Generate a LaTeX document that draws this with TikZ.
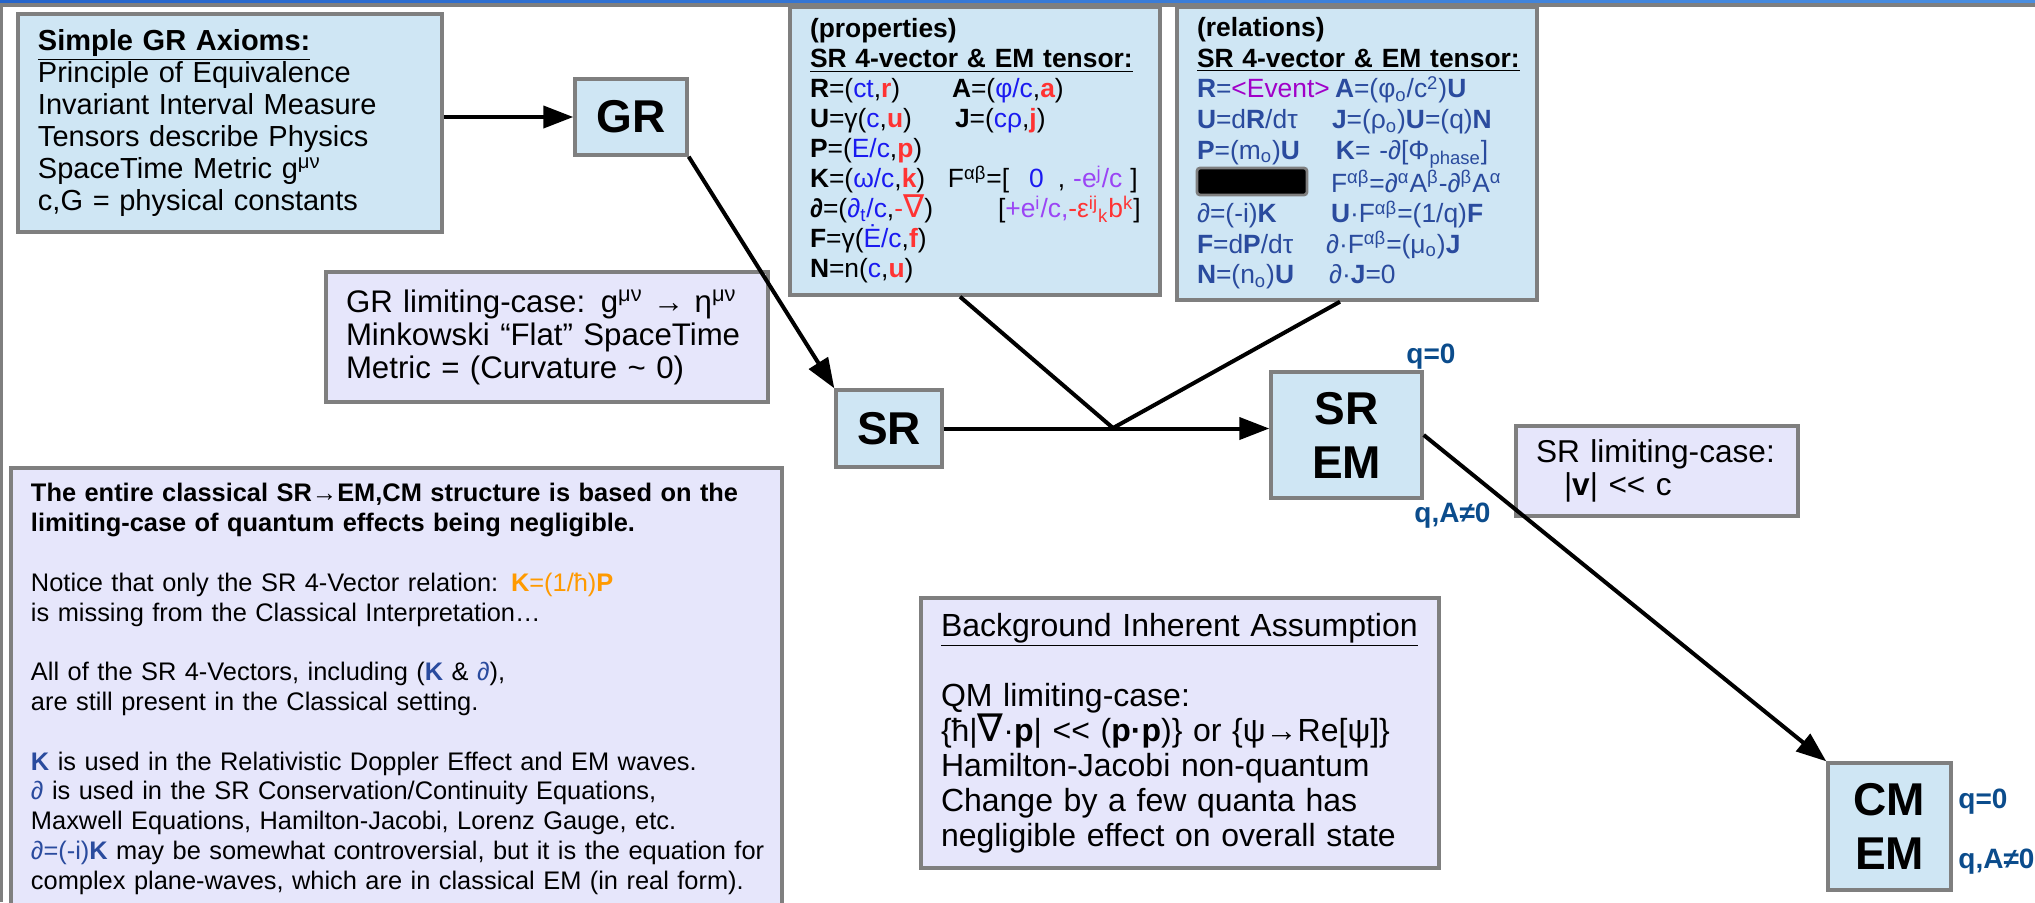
\documentclass[tikz,border=0pt]{standalone}
\usepackage{fontspec}
\setmainfont{Liberation Sans}
\newfontfamily\nablafont{DejaVu Sans}
\usetikzlibrary{positioning, arrows.meta}

\definecolor{skyfill}{HTML}{CFE6F4}
\definecolor{lavfill}{HTML}{E6E6FB}
\definecolor{edgegray}{HTML}{7F7F7F}
\definecolor{tblue}{HTML}{1A1AF0}
\definecolor{sred}{HTML}{FF3333}
\definecolor{epurple}{HTML}{9B45F5}
\definecolor{relblue}{HTML}{2A4B9E}
\definecolor{evpurple}{HTML}{A000C8}
\definecolor{qblue}{HTML}{0B4C8C}
\definecolor{korange}{HTML}{FF9A00}
\definecolor{barleft}{HTML}{2565CC}
\definecolor{barright}{HTML}{4A8EE0}

\newcommand{\tcomp}[1]{\textcolor{tblue}{#1}}
\newcommand{\scomp}[1]{\textcolor{sred}{\bfseries #1}}
\newcommand{\nab}{\scalebox{1.2}{\nablafont ∇}}
\newcommand{\col}[2]{\makebox[#1][l]{#2}}
\newcommand{\muchless}{<\kern0pt<}

\begin{document}
\begin{tikzpicture}[x=0.5pt, y=-0.5pt,
    panel/.style={rectangle, draw=edgegray, line width=1.7pt, align=left, inner xsep=10pt, inner ysep=0pt},
    skybox/.style={panel, fill=skyfill},
    lavbox/.style={panel, fill=lavfill},
    big/.style={rectangle, draw=edgegray, line width=1.7pt, fill=skyfill, align=center, inner sep=0pt,
        font=\bfseries\fontsize{23pt}{27pt}\selectfont},
    qlabel/.style={anchor=base west, inner sep=0pt, text=qblue, font=\bfseries\fontsize{14pt}{16pt}\selectfont},
    arr/.style={-{Triangle[length=15pt,width=11pt]}, line width=2pt},
    link/.style={line width=2pt}]
    \useasboundingbox (0,0) rectangle (2035,902);

    % frame strips
    \shade[left color=barleft, right color=barright] (0,0) rectangle (2035,3);
    \fill[edgegray] (0,3) rectangle (2035,7);
    \fill[edgegray] (0,7) rectangle (2.5,902);

    % top row
    \node[skybox, minimum width=212pt, minimum height=109pt, text width=192pt,
        font=\fontsize{14.5pt}{16pt}\selectfont] (axioms) at (230,123) {%
        \textbf{\underline{Simple GR Axioms:}}\\
        Principle of Equivalence\\
        Invariant Interval Measure\\
        Tensors describe Physics\\
        SpaceTime Metric g\textsuperscript{μν}\\
        c,G = physical constants};
    \node[big, minimum width=56pt, minimum height=38pt] (gr) at (631,117) {GR};

    \node[skybox, minimum width=185pt, minimum height=144pt, text width=165pt,
        font=\fontsize{13.2pt}{15pt}\selectfont] (props) at (975,151) {%
        \textbf{(properties)}\\
        \textbf{\underline{SR 4-vector \& EM tensor:}}\\
        \col{71pt}{\textbf{R}=(\tcomp{ct},\scomp{r})}\textbf{A}=(\tcomp{φ/c},\scomp{a})\\
        \col{72.5pt}{\textbf{U}=γ(\tcomp{c},\scomp{u})}\textbf{J}=(\tcomp{cρ},\scomp{j})\\
        \textbf{P}=(\tcomp{E/c},\scomp{p})\\
        \mbox{\col{69pt}{\textbf{K}=(\tcomp{ω/c},\scomp{k})}F\textsuperscript{αβ}=[\hspace{10pt}\tcomp{0}\hspace{7pt},\hspace{4pt}\textcolor{epurple}{-e\textsuperscript{j}/c}\hspace{4pt}]}\\
        \mbox{\col{94pt}{\textbf{∂}=(\tcomp{∂\textsubscript{t}/c},\textcolor{sred}{-\nab})}[\textcolor{epurple}{+e\textsuperscript{i}/c,}\textcolor{sred}{-ε\textsuperscript{ij}\textsubscript{k}b\textsuperscript{k}}]}\\
        \textbf{F}=γ(\tcomp{Ė/c},\scomp{f})\\
        \textbf{N}=n(\tcomp{c},\scomp{u})};

    \node[skybox, minimum width=180pt, minimum height=146.5pt, text width=160pt, text=relblue,
        font=\fontsize{13.2pt}{15.3pt}\selectfont] (rels) at (1357,153.5) {%
        \textcolor{black}{\textbf{(relations)}}\\
        \textcolor{black}{\textbf{\underline{SR 4-vector \& EM tensor:}}}\\
        \col{69pt}{\textbf{R}=\textcolor{evpurple}{<Event>}}\textbf{A}=(φ\textsubscript{o}/c\textsuperscript{2})\textbf{U}\\
        \col{67.5pt}{\textbf{U}=d\textbf{R}/dτ}\textbf{J}=(ρ\textsubscript{o})\textbf{U}=(q)\textbf{N}\\
        \col{69.5pt}{\textbf{P}=(m\textsubscript{o})\textbf{U}}\textbf{K}= -∂[Φ\textsubscript{phase}]\\
        \col{67pt}{}F\textsuperscript{αβ}=∂\textsuperscript{α}A\textsuperscript{β}-∂\textsuperscript{β}A\textsuperscript{α}\\
        \col{67pt}{∂=(-i)\textbf{K}}\textbf{U}·F\textsuperscript{αβ}=(1/q)\textbf{F}\\
        \col{64.5pt}{\textbf{F}=d\textbf{P}/dτ}∂·F\textsuperscript{αβ}=(μ\textsubscript{o})\textbf{J}\\
        \col{66pt}{\textbf{N}=(n\textsubscript{o})\textbf{U}}∂·\textbf{J}=0};
    \node[fill=black, draw=edgegray, line width=1.4pt, rounded corners=1.5pt, minimum width=55pt,
        minimum height=13.5pt, inner sep=0pt] (hidden) at (1252,181.5) {};

    % middle row
    \node[lavbox, minimum width=221pt, minimum height=65pt, text width=201pt,
        font=\fontsize{15.6pt}{16.5pt}\selectfont] (grlim) at (547,337) {%
        GR limiting-case: g\textsuperscript{μν} → η\textsuperscript{μν}\\
        \mbox{Minkowski “Flat” SpaceTime}\\
        Metric = (Curvature \textasciitilde{} 0)};
    \node[big, minimum width=53pt, minimum height=38.5pt] (sr) at (889,428.5) {SR};
    \node[big, minimum width=75.5pt, minimum height=63pt] (srem) at (1346.5,435) {SR\\EM};
    \node[lavbox, minimum width=141pt, minimum height=45pt, text width=121pt,
        font=\fontsize{15.8pt}{16.5pt}\selectfont] (srlim) at (1657,471) {%
        SR limiting-case:\\
        \hspace*{14pt}|\textbf{v}| \muchless{} c};

    % bottom row
    \node[lavbox, minimum width=385.5pt, minimum height=221pt, text width=365.5pt,
        font=\fontsize{12.7pt}{14.9pt}\selectfont] (classic) at (396.5,689) {%
        \mbox{\textbf{The entire classical SR→EM,CM structure is based on the}}\\
        \textbf{limiting-case of quantum effects being negligible.}\\[14.9pt]
        Notice that only the SR 4-Vector relation: \textcolor{korange}{\textbf{K}=(1/ħ)\textbf{P}}\\
        is missing from the Classical Interpretation…\\[14.9pt]
        All of the SR 4-Vectors, including (\textcolor{relblue}{\textbf{K}} \& \textcolor{relblue}{∂}),\\
        are still present in the Classical setting.\\[14.9pt]
        \textcolor{relblue}{\textbf{K}} is used in the Relativistic Doppler Effect and EM waves.\\
        \textcolor{relblue}{∂} is used in the SR Conservation/Continuity Equations,\\
        Maxwell Equations, Hamilton-Jacobi, Lorenz Gauge, etc.\\
        \mbox{\textcolor{relblue}{∂=(-i)\textbf{K}} may be somewhat controversial, but it is the equation for}\\
        \mbox{complex plane-waves, which are in classical EM (in real form).}};

    \node[lavbox, minimum width=259pt, minimum height=135pt, text width=239pt,
        font=\fontsize{16pt}{17.5pt}\selectfont] (assume) at (1180,733) {%
        \underline{Background Inherent Assumption}\\[17.5pt]
        QM limiting-case:\\
        \{ħ|\nab·\textbf{p}| \muchless{} (\textbf{p·p})\} or \{ψ→Re[ψ]\}\\
        Hamilton-Jacobi non-quantum\\
        Change by a few quanta has\\
        negligible effect on overall state};
    \node[big, minimum width=61.5pt, minimum height=63.5pt] (cmem) at (1889.5,826.5) {CM\\EM};

    % charge labels
    \node[qlabel] (q0a) at (1406,363) {q=0};
    \node[qlabel] (qAa) at (1414,522) {q,A≠0};
    \node[qlabel] (q0b) at (1958,808) {q=0};
    \node[qlabel] (qAb) at (1958,868) {q,A≠0};

    % connectors
    \coordinate (jn) at (1113,428);
    \draw[arr] (axioms.east |- gr.west) -- (gr.west);
    \draw[arr] (gr.south east) -- (sr.north west);
    \draw[link] ([xshift=-7.5pt]props.south) -- (jn);
    \draw[link] ([xshift=-8.5pt]rels.south) -- (jn);
    \draw[arr] (sr.east) -- (sr.east -| srem.west);
    \draw[arr] (srem.east) -- (cmem.north west);
\end{tikzpicture}
\end{document}
